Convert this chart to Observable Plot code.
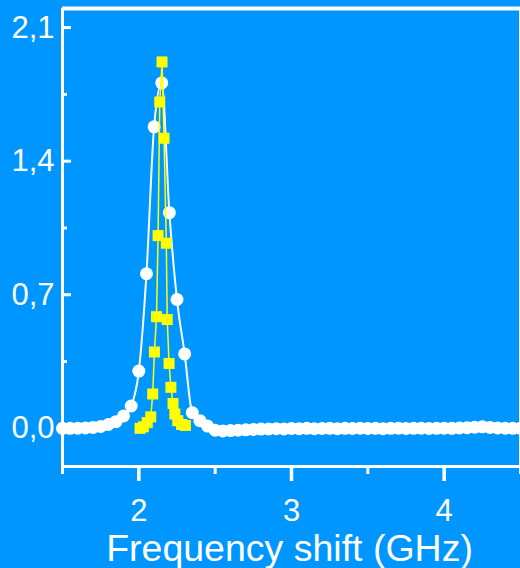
<!DOCTYPE html>
<html><head><meta charset="utf-8">
<script src="https://cdn.jsdelivr.net/npm/d3@7"></script>
<script src="https://cdn.jsdelivr.net/npm/@observablehq/plot@0.6"></script>
<style>html,body{margin:0;padding:0;background:#0096ff;overflow:hidden;}</style>
</head><body><div id="chart"></div>
<script>
// White circles series (frequency shift in GHz, amplitude)
const circleX = [1.50,1.55,1.60,1.65,1.70,1.75,1.80,1.85,1.90,1.95,
  2.00,2.05,2.10,2.15,2.20,2.25,2.30,2.35,2.40,2.45,
  2.50,2.55,2.60,2.65,2.70,2.75,2.80,2.85,2.90,2.95,
  3.00,3.05,3.10,3.15,3.20,3.25,3.30,3.35,3.40,3.45,
  3.50,3.55,3.60,3.65,3.70,3.75,3.80,3.85,3.90,3.95,
  4.00,4.05,4.10,4.15,4.20,4.25,4.30,4.35,4.40,4.45,4.50];
const circleY = [0.000,0.000,0.001,0.002,0.005,0.010,0.020,0.035,0.065,0.117,
  0.300,0.810,1.580,1.810,1.130,0.675,0.390,0.082,0.040,0.012,
  -0.010,-0.014,-0.012,-0.010,-0.008,-0.006,-0.004,-0.003,-0.002,-0.003,
  -0.001,-0.002,0.000,-0.002,-0.001,0.000,-0.002,0.000,-0.001,0.001,
  -0.001,0.000,-0.002,0.000,0.001,-0.001,0.000,0.001,-0.001,0.000,
  0.001,0.000,0.002,0.003,0.006,0.008,0.005,0.002,0.001,0.000,0.000];
// Yellow squares series
const squareX = [2.008,2.030,2.055,2.078,2.091,2.102,2.116,2.126,2.137,2.152,
  2.165,2.180,2.186,2.198,2.210,2.224,2.236,2.255,2.280,2.305];
const squareY = [0.000,0.008,0.030,0.060,0.180,0.400,0.585,1.010,1.710,1.920,
  1.520,0.970,0.570,0.340,0.215,0.130,0.075,0.040,0.020,0.015];

const xMajorTicks = [2,3,4];
const xMinorTicks = [1.5,2.5,3.5,4.5];
const yMajorTicks = [0,0.7,1.4,2.1];
const yMinorTicks = [0.35,1.05,1.75];
const xDomain = [1.5,4.5];
const yDomain = [-0.2,2.2];
const xTitle = "Frequency shift (GHz)";

const circles = circleX.map((x,i)=>({x, y: circleY[i]}));
const squares = squareX.map((x,i)=>({x, y: squareY[i]}));
const fmt = d => d.toFixed(1).replace(".", ",");
const blank = () => "";

const chart = Plot.plot({
  width: 520, height: 568,
  marginLeft: 62, marginRight: 0, marginTop: 8, marginBottom: 102,
  style: {background: "#0096ff", color: "white", fontFamily: "'Liberation Sans', Arial, sans-serif", overflow: "visible"},
  x: {domain: xDomain, axis: null},
  y: {domain: yDomain, axis: null},
  marks: [
    Plot.line(circles, {x: "x", y: "y", stroke: "white", strokeWidth: 2, curve: "monotone-x"}),
    Plot.dot(circles, {x: "x", y: "y", r: 6.5, fill: "white", stroke: "none"}),
    Plot.line(squares, {x: "x", y: "y", stroke: "#ffff00", strokeWidth: 1.5}),
    Plot.dot(squares, {x: "x", y: "y", r: 6.2, symbol: "square", fill: "#ffff00", stroke: "none"}),
    // frame lines
    Plot.ruleX([xDomain[0]], {stroke: "white", strokeWidth: 3}),
    Plot.ruleX([xDomain[1]], {stroke: "white", strokeWidth: 3}),
    Plot.ruleY([yDomain[0]], {stroke: "white", strokeWidth: 3}),
    Plot.ruleY([yDomain[1]], {stroke: "white", strokeWidth: 4}),
    // x axis
    Plot.axisX({ticks: xMajorTicks, tickSize: 15, tickPadding: 17, strokeWidth: 3.5, fontSize: 31, tickFormat: d => String(d), label: null}),
    Plot.axisX({ticks: xMinorTicks, tickSize: 8, strokeWidth: 3, tickFormat: blank, label: null}),
    // y axis (inward ticks)
    Plot.axisY({ticks: yMajorTicks, tickSize: -9, strokeWidth: 3, tickFormat: blank, label: null}),
    Plot.axisY({ticks: yMinorTicks, tickSize: -5, strokeWidth: 3, tickFormat: blank, label: null}),
    Plot.axisY({ticks: yMajorTicks, tickSize: 0, tickPadding: 8, fontSize: 31, tickFormat: fmt, label: null}),
    Plot.text([xTitle], {frameAnchor: "bottom", dy: 94, dx: -2, lineAnchor: "bottom", fontSize: 37.5, fill: "white", text: d => d})
  ]
});
document.getElementById("chart").appendChild(chart);
</script>
</body></html>
